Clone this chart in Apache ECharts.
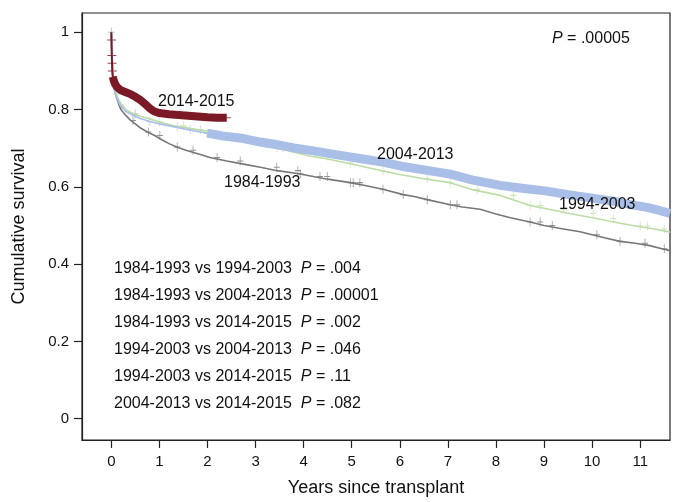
<!DOCTYPE html>
<html>
<head>
<meta charset="utf-8">
<script src="https://cdn.jsdelivr.net/npm/echarts@6/dist/echarts.min.js"></script>
<style>html,body{margin:0;padding:0;background:#fff;}#c{width:675px;height:502px;}</style>
</head>
<body>
<div id="c"></div>
<script>
// ---- data (time in years, cumulative survival) ----
const era1984 = [[0,1],[0.005,0.97],[0.01,0.95],[0.02,0.92],[0.03,0.89],[0.04,0.87],[0.06,0.855],[0.1,0.835],[0.15,0.815],[0.2,0.80],[0.3,0.785],[0.4,0.772],[0.5,0.763],[0.6,0.753],[0.75,0.742],[0.9,0.733],[1.05,0.722],[1.2,0.712],[1.36,0.703],[1.55,0.695],[1.8,0.686],[2.05,0.676],[2.4,0.667],[2.75,0.659],[3.1,0.651],[3.45,0.642],[3.9,0.634],[4.2,0.627],[4.5,0.620],[4.97,0.611],[5.3,0.603],[5.65,0.594],[6.07,0.580],[6.3,0.575],[6.57,0.567],[7.05,0.554],[7.3,0.548],[7.67,0.542],[8.0,0.530],[8.3,0.520],[8.71,0.509],[9.0,0.500],[9.4,0.491],[9.75,0.484],[10.0,0.476],[10.3,0.467],[10.58,0.459],[10.9,0.454],[11.2,0.448],[11.45,0.440],[11.62,0.435]];
const era1994 = [[0,1],[0.005,0.97],[0.01,0.95],[0.02,0.92],[0.03,0.895],[0.04,0.875],[0.06,0.86],[0.1,0.84],[0.18,0.818],[0.3,0.80],[0.45,0.79],[0.6,0.783],[0.8,0.776],[1.0,0.768],[1.3,0.758],[1.6,0.752],[2.05,0.743],[2.4,0.732],[2.75,0.722],[3.1,0.711],[3.45,0.701],[3.8,0.69],[4.13,0.68],[4.5,0.672],[4.9,0.662],[5.3,0.651],[5.65,0.641],[6.0,0.632],[6.5,0.621],[7.05,0.611],[7.5,0.593],[8.09,0.578],[8.4,0.565],[8.71,0.552],[9.1,0.542],[9.5,0.532],[10.09,0.518],[10.5,0.508],[10.9,0.499],[11.3,0.491],[11.62,0.483]];
const era2004 = [[0,1],[0.005,0.97],[0.01,0.95],[0.02,0.92],[0.03,0.89],[0.04,0.87],[0.06,0.855],[0.1,0.835],[0.18,0.812],[0.3,0.795],[0.45,0.786],[0.6,0.777],[0.8,0.769],[1.0,0.763],[1.29,0.756],[1.6,0.748],[1.99,0.739],[2.3,0.732],[2.75,0.725],[3.1,0.716],[3.45,0.709],[3.8,0.701],[4.27,0.692],[4.7,0.683],[5.2,0.673],[5.65,0.664],[6.1,0.652],[6.6,0.642],[7.05,0.633],[7.5,0.618],[8.09,0.604],[8.5,0.597],[9.06,0.589],[9.5,0.58],[10.0,0.571],[10.44,0.563],[10.8,0.554],[11.14,0.547],[11.4,0.539],[11.62,0.531]];
const era2014 = [[0,1],[0.003,0.98],[0.006,0.96],[0.01,0.94],[0.015,0.92],[0.02,0.90],[0.03,0.885],[0.05,0.875],[0.08,0.866],[0.12,0.858],[0.2,0.85],[0.3,0.845],[0.4,0.84],[0.5,0.833],[0.6,0.825],[0.7,0.815],[0.8,0.803],[0.9,0.795],[1.0,0.791],[1.2,0.788],[1.4,0.786],[1.6,0.784],[1.8,0.782],[2.0,0.780],[2.2,0.779],[2.39,0.779]];

// censoring times (sparse marks)
const cens1984 = [0.45,0.77,1.01,1.37,1.7,2.2,2.68,3.44,3.88,3.93,4.34,4.49,4.97,5.03,5.17,5.65,6.07,6.57,7.05,7.19,8.71,8.92,9.17,10.1,10.58,11.1,11.5];
const cens1994 = [0,0.1,0.5,1.0,1.5,3.2,3.24,3.45,3.57,3.72,4.49,4.97,5.65,6.57,7.05,7.61,8.36,8.71,8.92,9.4,10.02,10.44,11.0,11.15,11.5];
const cens2004 = [0,0.2,0.49,0.8,1.37,1.64,1.85,1.99];
const cens2014 = [0.005,0.01,0.015,0.02,2.39];
// start of dense censoring band
const band2004 = 2.0;
const band2014 = 0.03;

const xTicks = [0,1,2,3,4,5,6,7,8,9,10,11];
const yTicks = [0,0.2,0.4,0.6,0.8,1];
const pairText = [
  ['1984-1993 vs 1994-2003', '.004'],
  ['1984-1993 vs 2004-2013', '.00001'],
  ['1984-1993 vs 2014-2015', '.002'],
  ['1994-2003 vs 2004-2013', '.046'],
  ['1994-2003 vs 2014-2015', '.11'],
  ['2004-2013 vs 2014-2015', '.082']
];
const overallP = '.00005';

// ---- helpers ----
function stepAt(data, t){ let v = data[0][1]; for (const p of data){ if (p[0] <= t) v = p[1]; else break; } return v; }
function marks(data, times){ return times.map(t => [t, stepAt(data, t)]); }
function bandData(data, start){ const out=[[start, stepAt(data,start)]]; data.forEach(p=>{ if(p[0]>start) out.push(p); }); return out; }

const PLUS = 'path://M-0.12,-1L0.12,-1L0.12,-0.12L1,-0.12L1,0.12L0.12,0.12L0.12,1L-0.12,1L-0.12,0.12L-1,0.12L-1,-0.12L-0.12,-0.12Z';

const C1984 = '#777777', C1994 = '#bcdca5', C2004 = '#aabfe7', C2014 = '#7b1a26';

function lineS(data, color, w){ return {type:'line', data, symbol:'none', lineStyle:{color, width:w, join:'round'}, itemStyle:{color}, silent:true, animation:false, clip:true}; }
function markS(data, color, size){ return {type:'scatter', data, symbol:PLUS, symbolSize:size, itemStyle:{color}, silent:true, animation:false}; }

const chart = echarts.init(document.getElementById('c'), null, {renderer:'canvas'});
const FONT = '"Liberation Sans", Arial, sans-serif';

const graphics = [];
graphics.push({type:'text', z:100, left:552, top:31, style:{text:'{i|P} = ' + overallP, font:'16px '+FONT, fill:'#111', rich:{i:{fontStyle:'italic', font:'italic 16px '+FONT}}}});
pairText.forEach((p,i)=>{
  graphics.push({type:'text', z:100, left:114, top:261 + i*27, style:{text: p[0] + '  {i|P} = ' + p[1], font:'16px '+FONT, fill:'#111', rich:{i:{font:'italic 16px '+FONT}}}});
});
const seriesLabels = [['2014-2015',158,94],['2004-2013',377,147],['1984-1993',224,175],['1994-2003',559,197]];
seriesLabels.forEach(s=>graphics.push({type:'text', z:100, left:s[1], top:s[2], style:{text:s[0], font:'16px '+FONT, fill:'#111'}}));

chart.setOption({
  animation:false,
  grid:{left:82, right:5, top:13, bottom:56, show:true, borderColor:'#222', borderWidth:1.2, backgroundColor:'#fff'},
  xAxis:{type:'value', min:-0.61, max:11.62,
    name:'Years since transplant', nameLocation:'middle', nameGap:39,
    nameTextStyle:{fontSize:18, color:'#111', fontFamily:FONT},
    axisLine:{show:true, onZero:false, lineStyle:{color:'#222', width:1.2}},
    axisTick:{show:true, length:8, customValues:xTicks, lineStyle:{color:'#222', width:1.2}},
    axisLabel:{customValues:xTicks, margin:14, fontSize:15, color:'#111', fontFamily:FONT},
    splitLine:{show:false}},
  yAxis:{type:'value', min:-0.055, max:1.05,
    name:'Cumulative survival', nameLocation:'middle', nameGap:54,
    nameTextStyle:{fontSize:18, color:'#111', fontFamily:FONT},
    axisLine:{show:true, onZero:false, lineStyle:{color:'#222', width:1.2}},
    axisTick:{show:true, length:8, customValues:yTicks, lineStyle:{color:'#222', width:1.2}},
    axisLabel:{customValues:yTicks, margin:13, fontSize:15, color:'#111', fontFamily:FONT},
    splitLine:{show:false}},
  series:[
    lineS(era1984, C1984, 1.6), markS(marks(era1984, cens1984), C1984, [6,9]),
    lineS(era1994, C1994, 1.6), markS(marks(era1994, cens1994), C1994, [6,9]),
    lineS(era2004, C2004, 1.6), markS(marks(era2004, cens2004), C2004, [6,9]),
    lineS(bandData(era2004, band2004), C2004, 9),
    lineS(era2014, C2014, 2), lineS(bandData(era2014, band2014), C2014, 8),
    markS(marks(era2014, cens2014), C2014, [9,8])
  ],
  graphic: graphics
});
</script>
</body>
</html>
